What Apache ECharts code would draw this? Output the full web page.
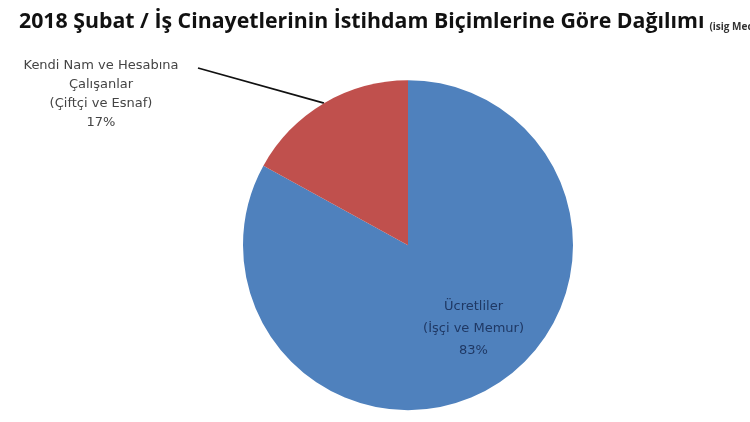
<!DOCTYPE html>
<html>
<head>
<meta charset="utf-8">
<script src="https://cdn.jsdelivr.net/npm/echarts@6/dist/echarts.min.js"></script>
<style>
  html, body { margin: 0; padding: 0; background: #fff; }
  #chart { width: 750px; height: 422px; }
</style>
</head>
<body>
<div id="chart"></div>
<script>
// veriler
const categories = ['Ücretliler\n(İşçi ve Memur)', 'Kendi Nam ve Hesabına\nÇalışanlar\n(Çiftçi ve Esnaf)'];
const values = [83, 17];
const colors = ['#4f81bd', '#c0504d'];

const chart = echarts.init(document.getElementById('chart'));

const option = {
  backgroundColor: '#fff',
  animation: false,
  title: {
    left: 14,
    top: 6,
    text: '{a|2018 Şubat / İş Cinayetlerinin İstihdam Biçimlerine Göre Dağılımı} {b|(isig Meclisi)}',
    textStyle: {
      rich: {
        a: { fontFamily: 'Open Sans', fontWeight: 'bold', fontSize: 21.3, color: '#111' },
        b: { fontFamily: 'Open Sans', fontSize: 10, color: '#333', verticalAlign: 'bottom' }
      }
    }
  },
  series: [{
    type: 'pie',
    center: ['54.4%', '58.1%'],
    radius: 165,
    startAngle: 90,
    clockwise: true,
    data: categories.map((name, i) => ({
      name,
      value: values[i],
      itemStyle: { color: colors[i] },
      label: i === 0
        ? { position: 'inside', color: '#1f3864', lineHeight: 22 }
        : { position: 'outside', color: '#444', lineHeight: 19 }
    })),
    itemStyle: { borderColor: '#fff', borderWidth: 0 },
    label: {
      formatter: p => p.name + '\n' + p.value + '%',
      fontFamily: 'DejaVu Sans',
      fontSize: 13,
      align: 'center'
    },
    labelLine: {
      show: true,
      lineStyle: { color: '#111', width: 1.8 }
    },
    labelLayout: function (p) {
      if (p.dataIndex === 0) {
        return { dx: 22, dy: 10 };
      }
      const pts = p.labelLinePoints;
      const edge = pts ? pts[0] : [324, 103];
      return {
        x: 101,
        y: 94,
        align: 'center',
        verticalAlign: 'middle',
        labelLinePoints: [edge, [198, 68], [198, 68]]
      };
    }
  }]
};

chart.setOption(option);
</script>
</body>
</html>
